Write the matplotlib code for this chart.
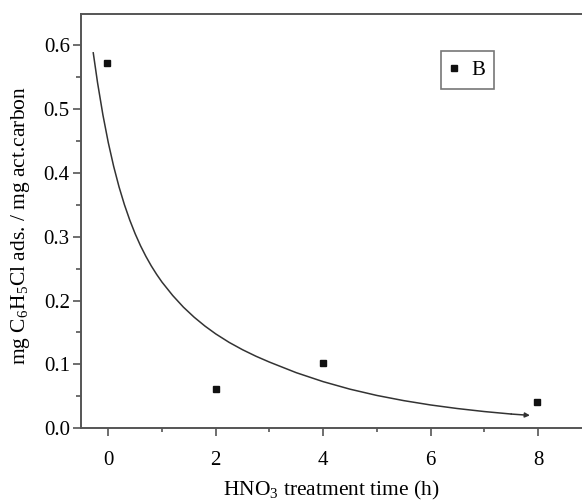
import matplotlib
matplotlib.use("Agg")
import matplotlib.pyplot as plt
from matplotlib.ticker import MultipleLocator

plt.rcParams['font.family'] = ['Liberation Serif', 'DejaVu Serif']
plt.rcParams['mathtext.fontset'] = 'custom'
plt.rcParams['mathtext.rm'] = 'Liberation Serif'
plt.rcParams['mathtext.it'] = 'Liberation Serif:italic'

# measured data (series B)
time_h = [-0.02, 2.0, 4.0, 7.98]
adsorbed = [0.571, 0.062, 0.102, 0.042]

# fitted curve
fit_x = [-0.28, -0.2, -0.1, 0.0, 0.1, 0.2, 0.3, 0.4, 0.5, 0.6, 0.7, 0.8, 0.9, 1.0,
         1.2, 1.4, 1.6, 1.8, 2.0, 2.25, 2.5, 2.75, 3.0, 3.5, 4.0, 4.5, 5.0, 5.5,
         6.0, 6.5, 7.0, 7.5, 7.85]
fit_y = [0.5875, 0.5408, 0.4903, 0.4470, 0.4099, 0.3778, 0.3500, 0.3258, 0.3045, 0.2857,
         0.2691, 0.2542, 0.2409, 0.2288, 0.2078, 0.1895, 0.1738, 0.1600, 0.1478, 0.1345,
         0.1230, 0.1128, 0.1037, 0.0871, 0.0731, 0.0613, 0.0515, 0.0434, 0.0366, 0.0310,
         0.0263, 0.0224, 0.0203]

x_ticks = [0, 2, 4, 6, 8]
y_ticks = [0.0, 0.1, 0.2, 0.3, 0.4, 0.5, 0.6]

fig = plt.figure(figsize=(5.82, 5.01), dpi=100)
ax = fig.add_axes([0.139, 0.145, 0.861, 0.828])
spine_col = '#555555'
line_col = '#333333'

ax.plot(fit_x[:-1], fit_y[:-1], color=line_col, lw=1.1, solid_joinstyle='round')
ax.annotate('', xy=(fit_x[-1], fit_y[-1]), xytext=(fit_x[-2], fit_y[-2]),
            arrowprops=dict(arrowstyle='-|>', color=line_col, lw=1.1,
                            mutation_scale=7, shrinkA=0, shrinkB=0))
ax.plot(time_h, adsorbed, ls='none', marker='s', ms=4.3, color='#111111', label='B')

ax.set_xlim(-0.51, 8.82)
ax.set_ylim(0.0, 0.649)
ax.set_xticks(x_ticks)
ax.set_yticks(y_ticks)
ax.set_yticklabels([f'{v:.1f}' for v in y_ticks])
ax.xaxis.set_minor_locator(MultipleLocator(1))
ax.yaxis.set_minor_locator(MultipleLocator(0.05))

for s in ['left', 'bottom', 'top']:
    ax.spines[s].set_color(spine_col)
    ax.spines[s].set_linewidth(1.4)
ax.spines['right'].set_visible(False)

ax.tick_params(which='major', direction='out', width=1.2, color=spine_col,
               labelsize=15, top=False, right=False)
ax.tick_params(which='minor', direction='out', width=1.2, color=spine_col,
               top=False, right=False)
ax.tick_params(axis='x', which='major', length=5.5, pad=11)
ax.tick_params(axis='x', which='minor', length=3.2)
ax.tick_params(axis='y', which='major', length=6, pad=2)
ax.tick_params(axis='y', which='minor', length=3.5)

ax.set_xlabel('HNO$_3$ treatment time (h)', fontsize=15.5, labelpad=6)
ax.set_ylabel('mg C$_6$H$_5$Cl ads. / mg act.carbon', fontsize=15.5)
ax.yaxis.set_label_coords(-0.098, 0.49)

leg = ax.legend(loc='upper left', bbox_to_anchor=(0.718, 0.910), frameon=True, fancybox=False,
                fontsize=15, handlelength=0.4, handletextpad=0.6, borderpad=0.45,
                borderaxespad=0)
leg.get_frame().set_edgecolor(spine_col)
leg.get_frame().set_linewidth(1.2)

fig.savefig('out.png', dpi=100)
